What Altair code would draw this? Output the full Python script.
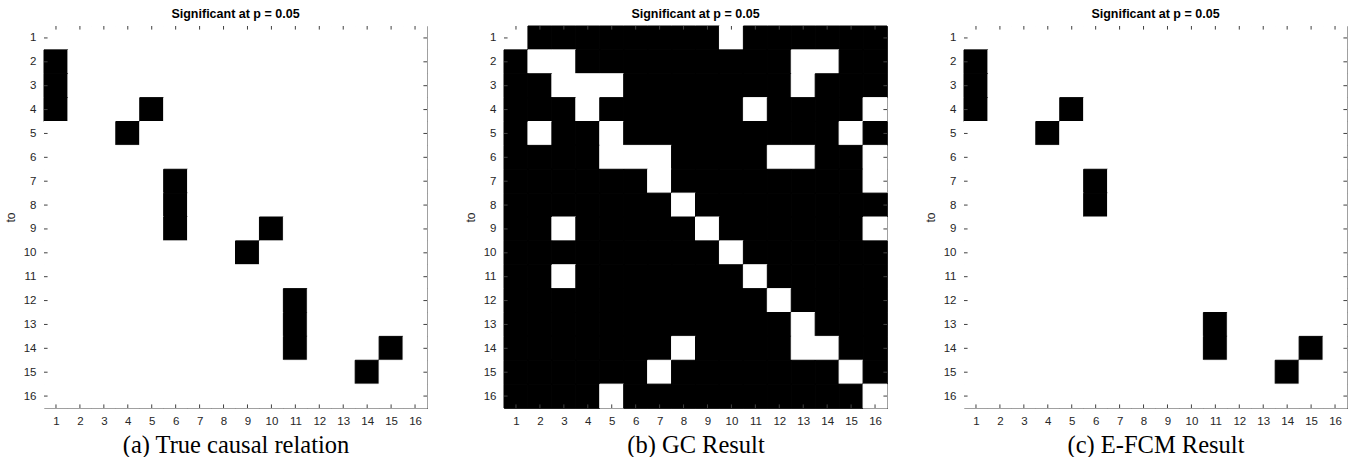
import altair as alt
import pandas as pd

N = 16
idx = list(range(1, N + 1))

# significant (black) cells for panel (a) true causal relation: (from, to)
true_cells = [(1, 2), (1, 3), (1, 4), (5, 4), (4, 5), (6, 7), (6, 8), (6, 9),
              (10, 9), (9, 10), (11, 12), (11, 13), (11, 14), (15, 14), (14, 15)]
# non-significant (white) cells for panel (b) GC result: (from, to)
gc_white = [(1, 1), (10, 1),
            (2, 2), (3, 2), (13, 2), (14, 2),
            (3, 3), (4, 3), (5, 3), (13, 3),
            (4, 4), (11, 4), (16, 4),
            (2, 5), (5, 5), (15, 5),
            (5, 6), (6, 6), (7, 6), (12, 6), (13, 6), (16, 6),
            (7, 7), (16, 7),
            (8, 8),
            (3, 9), (9, 9), (16, 9),
            (10, 10),
            (3, 11), (11, 11),
            (12, 12),
            (13, 13),
            (8, 14), (13, 14), (14, 14),
            (7, 15), (15, 15),
            (5, 16), (16, 16)]
# significant (black) cells for panel (c) E-FCM result
efcm_cells = [(1, 2), (1, 3), (1, 4), (5, 4), (4, 5), (6, 7), (6, 8),
              (11, 13), (11, 14), (15, 14), (14, 15)]

captions = ["(a) True causal relation", "(b) GC Result", "(c) E-FCM Result"]
title_txt = "Significant at p = 0.05"


def matrix(sig_set=None, white_set=None):
    rows = []
    for t in idx:
        for f in idx:
            if sig_set is not None:
                v = 1 if (f, t) in sig_set else 0
            else:
                v = 0 if (f, t) in white_set else 1
            rows.append({"from": f, "to": t, "x0": f - 0.5, "x1": f + 0.5,
                         "y0": t - 0.5, "y1": t + 0.5, "sig": v})
    return pd.DataFrame(rows)


lo, hi = 0.5, N + 0.5
tl = 0.15
ticks_v = pd.DataFrame(
    [{"x": i, "y": hi, "y2": hi - tl} for i in idx] +
    [{"x": i, "y": lo, "y2": lo + tl} for i in idx])
ticks_h = pd.DataFrame(
    [{"y": i, "x": lo, "x2": lo + tl} for i in idx] +
    [{"y": i, "x": hi, "x2": hi - tl} for i in idx])

AX_FONT = "Liberation Sans"
GRAY = "#404040"
bw = alt.Scale(domain=[0, 1], range=["#ffffff", "#000000"])


def panel(df, caption):
    xs = alt.Scale(domain=[lo, hi], nice=False, zero=False)
    ys = alt.Scale(domain=[lo, hi], nice=False, zero=False, reverse=True)
    xaxis = alt.Axis(values=idx, format="d", labelAngle=0, grid=False, ticks=False,
                     domain=False, labelPadding=7, labelFontSize=11.5, labelOverlap=False,
                     labelFont=AX_FONT, labelColor="#262626",
                     title=caption, titleFont="Liberation Serif", titleFontSize=24.5,
                     titleFontWeight="normal", titleColor="#000", titlePadding=7)
    yaxis = alt.Axis(values=idx, format="d", grid=False, ticks=False, domain=False,
                     labelPadding=8, labelFontSize=11.5, labelFont=AX_FONT, labelOverlap=False,
                     labelColor="#262626", title="to", titleFont=AX_FONT,
                     titleFontSize=12, titleFontWeight="normal", titleColor="#262626",
                     titlePadding=6)
    cells = alt.Chart(df).mark_rect(strokeWidth=1).encode(
        x=alt.X("x0:Q", scale=xs, axis=xaxis),
        x2="x1:Q",
        y=alt.Y("y0:Q", scale=ys, axis=yaxis),
        y2="y1:Q",
        color=alt.Color("sig:N", scale=bw, legend=None),
        stroke=alt.Stroke("sig:N", scale=bw, legend=None),
    )
    tv = alt.Chart(ticks_v).mark_rule(color=GRAY, strokeWidth=1).encode(
        x=alt.X("x:Q", scale=xs, axis=xaxis), y=alt.Y("y:Q", scale=ys, axis=yaxis), y2="y2:Q")
    th = alt.Chart(ticks_h).mark_rule(color=GRAY, strokeWidth=1).encode(
        y=alt.Y("y:Q", scale=ys, axis=yaxis), x=alt.X("x:Q", scale=xs, axis=xaxis), x2="x2:Q")
    return alt.layer(cells, tv, th).properties(
        width=383, height=382,
        title=alt.TitleParams(title_txt, fontSize=12.5, fontWeight="bold", font=AX_FONT,
                              color="#000", offset=5, anchor="middle"))


chart = alt.hconcat(
    panel(matrix(sig_set=set(true_cells)), captions[0]),
    panel(matrix(white_set=set(gc_white)), captions[1]),
    panel(matrix(sig_set=set(efcm_cells)), captions[2]),
    spacing=77, bounds="flush",
).resolve_scale(x="independent", y="independent").configure_view(
    stroke=GRAY, strokeWidth=1
).configure_axis(labelOverlap=False).properties(
    padding={"left": 3, "top": 7, "right": 0, "bottom": 0}, background="#ffffff")

chart.save("out.html", embed_options={"renderer": "svg", "actions": False})
